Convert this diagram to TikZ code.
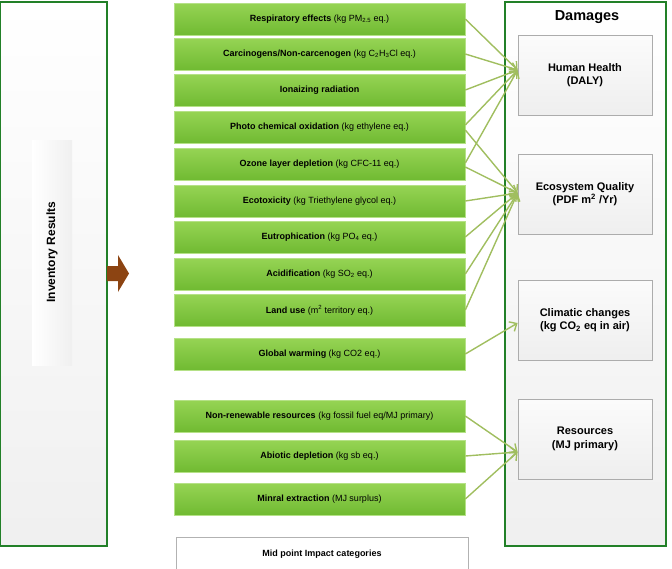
\documentclass[tikz,border=0pt]{standalone}
\usepackage{fontspec}
\setmainfont{Liberation Sans}
\usetikzlibrary{arrows.meta, shadows}

\definecolor{framegreen}{RGB}{34,128,40}
\definecolor{boxgreen}{RGB}{150,212,84}
\definecolor{boxgreendark}{RGB}{112,186,50}
\definecolor{linkgreen}{RGB}{160,190,95}
\definecolor{flowbrown}{RGB}{140,68,18}

\tikzset{
    frame/.style={draw=framegreen, line width=1.6pt, top color=white, bottom color=gray!12},
    impact/.style={rectangle, draw=boxgreen!70!white, line width=0.6pt,
        top color=boxgreen, bottom color=boxgreendark,
        minimum width=291pt, minimum height=32pt, inner sep=0pt,
        font=\fontsize{9}{10}\selectfont,
        drop shadow={shadow xshift=0.8pt, shadow yshift=-0.8pt, opacity=0.25}},
    damage/.style={rectangle, draw=gray!65, line width=0.8pt,
        top color=gray!3, bottom color=gray!13,
        minimum width=134pt, minimum height=80pt, inner sep=0pt, align=center,
        font=\bfseries\fontsize{11}{13.5}\selectfont},
    link/.style={draw=linkgreen, line width=1.4pt, -{Straight Barb[length=6pt, width=11pt]}},
}

\begin{document}
\begin{tikzpicture}[x=1pt, y=-1pt]

    % 1. Fix the page
    \clip (0,0) rectangle (672,568);

    % 2. The two frames
    \path[frame] (0,2) rectangle (107,546);
    \path[frame] (505,2) rectangle (666,546);
    \node[font=\bfseries\fontsize{14.5}{17}\selectfont] (dmg) at (587,17) {Damages};

    % Inventory label and the brown flow arrow
    \shade[top color=white, bottom color=gray!10, left color=white, right color=gray!12] (32,140) rectangle (72,365);
    \node[rotate=90, font=\bfseries\fontsize{12}{14}\selectfont] (inv) at (52,252) {Inventory Results};
    \coordinate (F) at (107,273.5);
    \fill[flowbrown] (F) ++(0,-7.5) -- ++(11,0) -- ++(0,-11) -- ++(11,18.5)
        -- ++(-11,18.5) -- ++(0,-11) -- ++(-11,0) -- cycle;

    % 3. Mid point impact categories
    \node[impact] (resp)    at (319.5,19)  {\textbf{Respiratory effects} (kg PM\textsubscript{2.5} eq.)};
    \node[impact] (carc)    at (319.5,54)  {\textbf{Carcinogens/Non-carcenogen} (kg C\textsubscript{2}H\textsubscript{3}Cl eq.)};
    \node[impact] (ioniz)   at (319.5,90)  {\textbf{Ionaizing radiation}};
    \node[impact] (photo)   at (319.5,127) {\textbf{Photo chemical oxidation} (kg ethylene eq.)};
    \node[impact] (ozone)   at (319.5,164) {\textbf{Ozone layer depletion} (kg CFC-11 eq.)};
    \node[impact] (ecotox)  at (319.5,201) {\textbf{Ecotoxicity} (kg Triethylene glycol eq.)};
    \node[impact] (eutro)   at (319.5,237) {\textbf{Eutrophication} (kg PO\textsubscript{4} eq.)};
    \node[impact] (acid)    at (319.5,274) {\textbf{Acidification} (kg SO\textsubscript{2} eq.)};
    \node[impact] (land)    at (319.5,310) {\textbf{Land use} (m\textsuperscript{2} territory eq.)};
    \node[impact] (gwarm)   at (319.5,354) {\textbf{Global warming} (kg CO2 eq.)};
    \node[impact] (nonren)  at (319.5,416) {\textbf{Non-renewable resources} (kg fossil fuel eq/MJ primary)};
    \node[impact] (abiotic) at (319.5,456) {\textbf{Abiotic depletion} (kg sb eq.)};
    \node[impact] (mineral) at (319.5,499) {\textbf{Minral extraction} (MJ surplus)};

    \node[rectangle, draw=gray!60, fill=white, minimum width=292pt, minimum height=36pt,
        font=\bfseries\fontsize{9}{10}\selectfont, text depth=0pt] (midpt) at (322,555)
        {\raisebox{4pt}{Mid point Impact categories}};

    % 4. Damage categories
    \node[damage] (hh)   at (585,75)  {Human Health\\(DALY)};
    \node[damage] (eq)   at (585,194) {Ecosystem Quality\\(PDF m\textsuperscript{2} /Yr)};
    \node[damage] (clim) at (585,320) {Climatic changes\\(kg CO\textsubscript{2} eq in air)};
    \node[damage] (res)  at (585,439) {Resources\\(MJ primary)};

    % 5. Links to Human Health
    \draw[link] (resp.east) -- ([yshift=5pt]hh.west);
    \draw[link] (carc.east) -- ([yshift=5pt]hh.west);
    \draw[link] (ioniz.east) -- ([yshift=5pt]hh.west);
    \draw[link] ([yshift=2pt]photo.east) -- ([yshift=5pt]hh.west);
    \draw[link] ([yshift=1pt]ozone.east) -- ([yshift=5pt]hh.west);

    % 6. Links to Ecosystem Quality
    \draw[link] ([yshift=-3pt]photo.east) -- ([yshift=1pt]eq.west);
    \draw[link] ([yshift=-3pt]ozone.east) -- ([yshift=1pt]eq.west);
    \draw[link] (ecotox.east) -- ([yshift=1pt]eq.west);
    \draw[link] (eutro.east) -- ([yshift=1pt]eq.west);
    \draw[link] (acid.east) -- ([yshift=1pt]eq.west);
    \draw[link] (land.east) -- ([yshift=1pt]eq.west);

    % 7. Climatic changes and Resources
    \draw[link] (gwarm.east) -- ([yshift=-3pt]clim.west);
    \draw[link] (nonren.east) -- ([yshift=-13pt]res.west);
    \draw[link] (abiotic.east) -- ([yshift=-13pt]res.west);
    \draw[link] (mineral.east) -- ([yshift=-13pt]res.west);

\end{tikzpicture}
\end{document}
